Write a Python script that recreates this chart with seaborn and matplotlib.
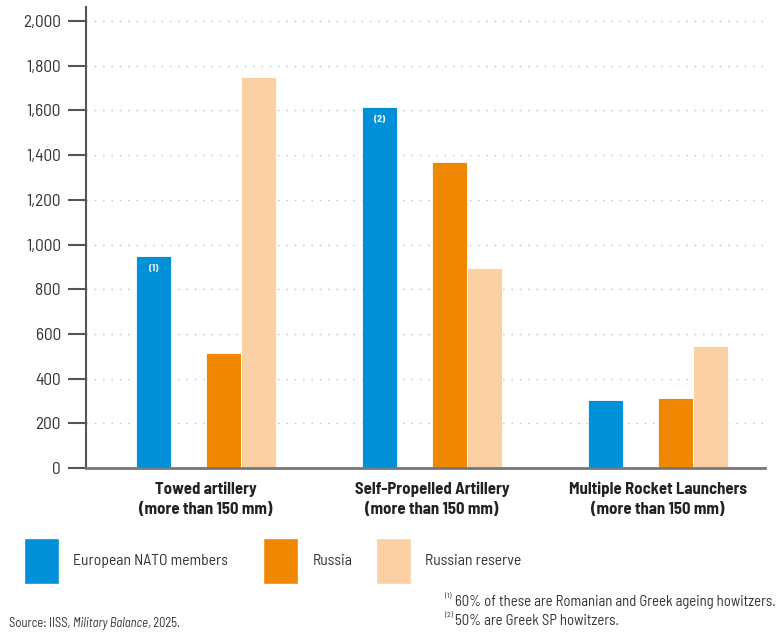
"""
Towed, self-propelled and rocket artillery: European NATO vs Russia (IISS, Military Balance 2025).
"""

import numpy as np
import pandas as pd
import matplotlib.pyplot as plt
import seaborn as sns
from matplotlib.patches import Patch
from matplotlib.ticker import FuncFormatter

categories = ['Towed artillery\n(more than 150 mm)',
              'Self-Propelled Artillery\n(more than 150 mm)',
              'Multiple Rocket Launchers\n(more than 150 mm)']
series = ['European NATO members', 'Russia', 'Russian reserve']
nato = [950, 1615, 305]
russia = [515, 1370, 315]
reserve = [1750, 895, 545]
bar_notes = ['(1)', '(2)', '']
footnotes = ['60% of these are Romanian and Greek ageing howitzers.',
             '50% are Greek SP howitzers.']

colors = ['#0090d7', '#f08700', '#fad0a4']
TEXT = '#333333'
FONT = ['Barlow Semi Condensed', 'DejaVu Sans']


def text_width(fig, t):
    r = fig.canvas.get_renderer()
    bb = t.get_window_extent(renderer=r)
    return bb.width / fig.bbox.width


def main():
    sns.set_style('white')
    plt.rcParams['font.family'] = FONT

    df = pd.DataFrame({
        'category': np.repeat(categories, 3),
        'series': series * 3,
        'value': [v for trio in zip(nato, russia, reserve) for v in trio],
    })

    # empty hue level keeps the gap between the NATO bar and the Russian pair
    hue_order = [series[0], ' ', series[1], series[2]]
    palette = [colors[0], 'white', colors[1], colors[2]]

    fig = plt.figure(figsize=(7.83, 6.33), dpi=100)
    ax = fig.add_axes([86 / 783, 1 - 468 / 633, (765 - 86) / 783, 461 / 633])

    sns.barplot(data=df, x='category', y='value', hue='series', hue_order=hue_order,
                palette=palette, order=categories, width=0.62, errorbar=None,
                saturation=1, legend=False, edgecolor='white', linewidth=0.6, ax=ax)

    ax.set_xlim(-0.531, 2.473)
    ax.set_ylim(0, 2063)
    ax.set_yticks(np.arange(0, 2001, 200))
    ax.yaxis.set_major_formatter(FuncFormatter(lambda v, p: f'{int(v):,}'))
    ax.grid(axis='y', color='#c0c0c0', linestyle=(0, (1, 5)), linewidth=1.0)
    ax.set_axisbelow(True)
    ax.tick_params(axis='y', length=13, width=1.5, color='#555555', pad=5,
                   labelsize=12.5, labelcolor=TEXT, left=True)
    ax.tick_params(axis='x', length=0, pad=10, labelsize=12)
    for lab in ax.get_xticklabels():
        lab.set_fontweight('bold')
        lab.set_color('#222222')
        lab.set_linespacing(1.35)
    ax.set_xlabel('')
    ax.set_ylabel('')

    for s in ['top', 'right']:
        ax.spines[s].set_visible(False)
    ax.spines['left'].set_color('#555555')
    ax.spines['left'].set_linewidth(1.5)
    ax.spines['bottom'].set_color('#777777')
    ax.spines['bottom'].set_linewidth(2)

    # footnote markers inside the NATO bars
    for bar, note in zip(ax.containers[0], bar_notes):
        if note:
            ax.annotate(note, (bar.get_x() + bar.get_width() / 2, bar.get_height()),
                        xytext=(0, -9), textcoords='offset points', ha='center',
                        va='center', fontsize=7, color='white', fontweight='bold')

    # legend: one entry per box so the uneven spacing of the original is kept
    for name, c, xp in zip(series, colors, [24, 263, 376]):
        fig.legend([Patch(facecolor=c, edgecolor='white')], [name], loc='upper left',
                   bbox_to_anchor=(xp / 783, 1 - 538 / 633), frameon=False,
                   handlelength=2.2, handleheight=4.15, handletextpad=0.95,
                   borderpad=0, borderaxespad=0,
                   prop={'size': 11.3, 'family': FONT}, labelcolor=TEXT)

    fig.canvas.draw()

    # source line with italic title
    x0, y0 = 9 / 783, 1 - 623 / 633
    t = fig.text(x0, y0, 'Source: IISS, ', fontsize=9, color=TEXT, va='center')
    x0 += text_width(fig, t)
    t = fig.text(x0, y0, 'Military Balance', fontsize=9, color=TEXT, va='center', style='italic')
    x0 += text_width(fig, t)
    fig.text(x0, y0, ', 2025.', fontsize=9, color=TEXT, va='center')

    # numbered footnotes, bottom right
    for i, (yp, note) in enumerate(zip([602, 621], footnotes)):
        ys = 1 - yp / 633
        fig.text(445 / 783, ys + 0.008, f'({i + 1})', fontsize=6, color=TEXT, va='center')
        fig.text(455 / 783, ys, note, fontsize=10.6, color=TEXT, va='center')

    fig.savefig('out.png', dpi=100)


if __name__ == '__main__':
    main()
